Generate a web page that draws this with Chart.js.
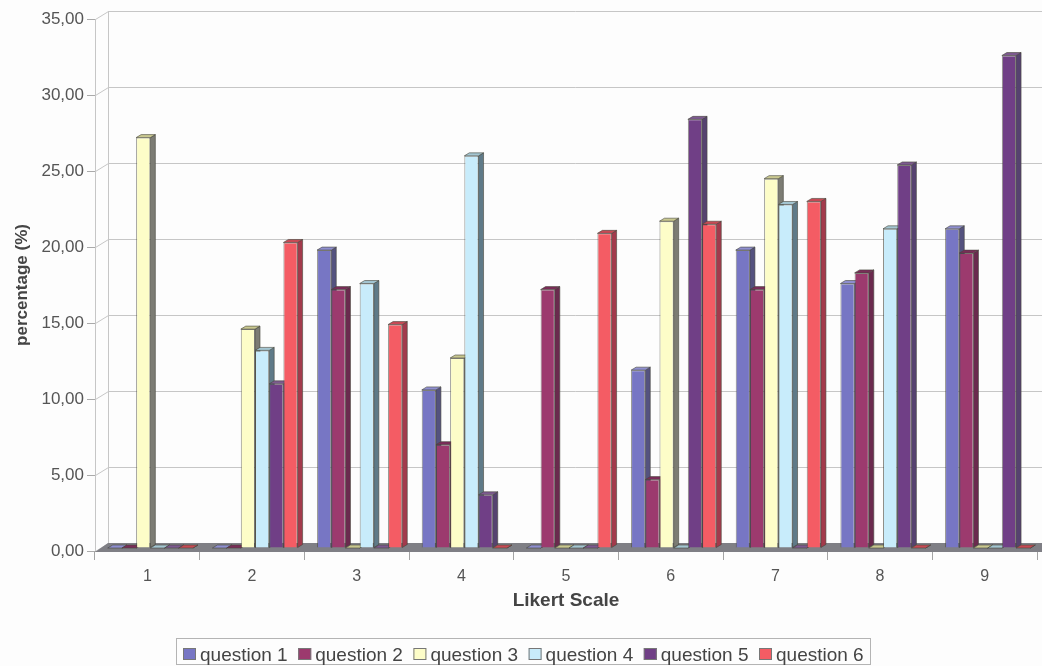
<!DOCTYPE html>
<html>
<head>
<meta charset="utf-8">
<style>
html,body{margin:0;padding:0;background:#fdfdfd;overflow:hidden}
#wrap{position:relative;width:1042px;height:666px}
</style>
<script src="https://cdn.jsdelivr.net/npm/chart.js@4"></script>
</head>
<body>
<div id="wrap"><canvas id="c" width="1042" height="666"></canvas></div>
<script>
const categories = ['1','2','3','4','5','6','7','8','9'];
const seriesNames = ['question 1','question 2','question 3','question 4','question 5','question 6'];
const question1 = [0,0,19.6,10.4,0,11.7,19.6,17.4,21];
const question2 = [0,0,17,6.8,17,4.5,17,18.1,19.4];
const question3 = [27,14.4,0,12.5,0,21.5,24.3,0,0];
const question4 = [0,13,17.4,25.8,0,0,22.6,21,0];
const question5 = [0,10.8,0,3.5,0,28.2,0,25.2,32.4];
const question6 = [0,20.1,14.7,0,20.7,21.3,22.8,0,0];
const seriesValues = [question1,question2,question3,question4,question5,question6];

const frontColors = ['#7776c4','#9c3a6e','#fdfdc8','#c8ecfb','#703f86','#f45c64'];
const sideColors  = ['#54527f','#6a2a4e','#7c7c74','#5f7a88','#564270','#a33a4c'];
const topColors   = ['#8f8fd0','#7a2c58','#c9c890','#a4c6d2','#7d5a90','#c84a55'];
const edgeColor = 'rgba(70,70,60,0.6)';

// Depth of the 3D projection: wall offset and bar offset/extrusion, in canvas pixels.
const WALL_DX = 13, WALL_DY = -8;
const BAR_DX = 3, BAR_DY = -3, SIDE_DX = 5, SIDE_DY = -3;
const GRID = '#c6c6c6';

const comma = v => Number(v).toFixed(2).replace('.', ',');

const wallAndFloor = {
  id: 'wallAndFloor',
  beforeDatasetsDraw(chart) {
    const {ctx, scales:{x, y}} = chart;
    const left = x.left, right = chart.width, bottom = y.bottom;
    ctx.save();
    ctx.lineWidth = 1;
    ctx.strokeStyle = GRID;
    y.ticks.forEach(t => {
      const py = Math.round(y.getPixelForValue(t.value)) + 0.5;
      ctx.beginPath();
      ctx.moveTo(left + 0.5, py);
      ctx.lineTo(left + WALL_DX + 0.5, py + WALL_DY);
      if (t.value > 0) ctx.lineTo(right, py + WALL_DY);
      ctx.stroke();
    });
    ctx.beginPath();
    ctx.moveTo(left + 0.5, y.top);
    ctx.lineTo(left + 0.5, bottom);
    ctx.moveTo(left + WALL_DX + 0.5, y.top + WALL_DY);
    ctx.lineTo(left + WALL_DX + 0.5, bottom + WALL_DY);
    ctx.stroke();
    ctx.fillStyle = '#7f7f85';
    ctx.beginPath();
    ctx.moveTo(left, bottom + 1);
    ctx.lineTo(left + WALL_DX, bottom + WALL_DY);
    ctx.lineTo(right, bottom + WALL_DY);
    ctx.lineTo(right, bottom + 1);
    ctx.closePath();
    ctx.fill();
    ctx.restore();
  }
};

const extrudedBars = {
  id: 'extrudedBars',
  // Bars are painted together below, so faces overlap from left to right.
  beforeDatasetDraw() { return false; },
  afterDatasetsDraw(chart) {
    const {ctx} = chart;
    ctx.save();
    ctx.translate(BAR_DX, BAR_DY);
    ctx.lineWidth = 1;
    ctx.strokeStyle = edgeColor;
    categories.forEach((_, ci) => {
      seriesValues.forEach((_, si) => {
        const bar = chart.getDatasetMeta(si).data[ci];
        const {x, y, base, width} = bar.getProps(['x','y','base','width'], true);
        const l = x - width / 2, r = x + width / 2;
        ctx.fillStyle = sideColors[si];
        ctx.beginPath();
        ctx.moveTo(r, y);
        ctx.lineTo(r + SIDE_DX, y + SIDE_DY);
        ctx.lineTo(r + SIDE_DX, base + SIDE_DY);
        ctx.lineTo(r, base);
        ctx.closePath();
        ctx.fill();
        ctx.stroke();
        ctx.fillStyle = topColors[si];
        ctx.beginPath();
        ctx.moveTo(l, y);
        ctx.lineTo(l + SIDE_DX, y + SIDE_DY);
        ctx.lineTo(r + SIDE_DX, y + SIDE_DY);
        ctx.lineTo(r, y);
        ctx.closePath();
        ctx.fill();
        ctx.stroke();
        bar.draw(ctx);
      });
    });
    ctx.restore();
  }
};

// Framed legend strip under the axis title.
const legendStrip = {
  id: 'legendStrip',
  afterDraw(chart) {
    const {ctx} = chart;
    const PITCH = 115.2, BOX_X = 183, BOX_Y = 648, BOX = 13, TEXT_GAP = 17;
    ctx.save();
    ctx.strokeStyle = '#b4b4b4';
    ctx.lineWidth = 1;
    ctx.strokeRect(176.5, 638.5, 694, 26);
    ctx.font = '19px "Liberation Sans"';
    ctx.textBaseline = 'middle';
    seriesNames.forEach((name, i) => {
      const bx = BOX_X + i * PITCH;
      ctx.fillStyle = frontColors[i];
      ctx.fillRect(bx, BOX_Y, BOX, BOX - 1);
      ctx.strokeStyle = '#777';
      ctx.strokeRect(bx + 0.5, BOX_Y + 0.5, BOX - 1, BOX - 2);
      ctx.fillStyle = '#444';
      ctx.fillText(name, bx + TEXT_GAP, BOX_Y + 8);
    });
    ctx.restore();
  }
};

new Chart(document.getElementById('c'), {
  type: 'bar',
  data: {
    labels: categories,
    datasets: seriesValues.map((values, i) => ({
      label: seriesNames[i],
      data: values,
      backgroundColor: frontColors[i],
      borderColor: edgeColor,
      borderWidth: 1,
      categoryPercentage: 0.814,
      barPercentage: 1
    }))
  },
  options: {
    responsive: false,
    animation: false,
    layout: {padding: {left: 0, right: 5, top: 19, bottom: 0}},
    plugins: {
      tooltip: {enabled: false},
      title: {display: false},
      legend: {display: false}
    },
    scales: {
      x: {
        afterFit(scale) { scale.height = 115; },
        grid: {drawOnChartArea: false, tickLength: 9, color: '#a4a4a4'},
        border: {color: '#8a8a8a'},
        ticks: {color: '#555', font: {family: '"Liberation Sans"', size: 16}, padding: 7, maxRotation: 0},
        title: {display: true, text: 'Likert Scale', color: '#444', font: {family: '"Liberation Sans"', size: 19, weight: 'bold'}, padding: {top: 0, bottom: 54}}
      },
      y: {
        min: 0, max: 35,
        afterFit(scale) { scale.width = 95; },
        grid: {drawOnChartArea: false, tickLength: 8, color: '#aaa'},
        border: {display: false},
        ticks: {stepSize: 5, color: '#555', font: {family: '"Liberation Sans"', size: 17}, padding: 3, callback: comma},
        title: {display: true, text: 'percentage (%)', color: '#444', font: {family: '"Liberation Sans"', size: 17, weight: 'bold'}, padding: {top: 12, bottom: 4}}
      }
    }
  },
  plugins: [wallAndFloor, extrudedBars, legendStrip]
});
</script>
</body>
</html>
